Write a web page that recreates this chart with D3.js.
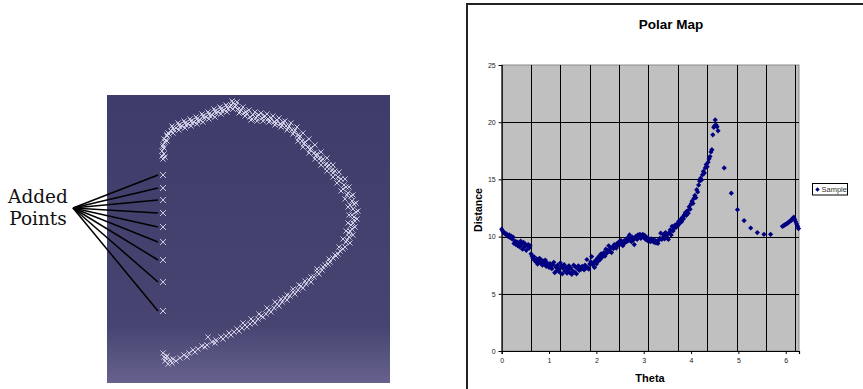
<!DOCTYPE html>
<html>
<head>
<meta charset="utf-8">
<script src="https://cdn.jsdelivr.net/npm/d3@7"></script>
<style>
  html, body { margin: 0; padding: 0; background: #fff; }
  svg { display: block; }
</style>
</head>
<body>
<svg id="chart" width="863" height="389"></svg>
<script>
// ---- left picture: scanned outline (scan pixel units, 283 x 288) ----
const scanU = [
  56,55,57,55,57,56,58,57,60,61,64,66,69,72,75,78,81,84,87,90,93,96,99,102,105,108,111,114,117,120,123,126,128,131,134,137,140,143,146,149,152,155,158,161,164,167,170,173,176,179,182,185,188,191,193,195,198,201,204,207,210,213,216,219,222,225,228,231,234,237,239,241,244,245,247,246,249,247,247,244,245,242,242,239,238,233,231,226,223,218,215,210,207,202,199,194,191,186,183,178,175,170,167,162,159,154,151,146,143,138,135,130,127,122,119,114,109,101,105,100,95,91,86,82,77,73,69,65,61,58,57,56,59,63,
  58,56,59,62,67,73,79,85,91,97,103,109,115,121,124,129,133,139,145,150,157,163,169,175,181,187,192,197,203,209,214,220,226,232,236,240,243,245,246,243,240,236,229,221,212,204,196,188,180,172,164,156,148,140,132,124,116,108,98,88,80,66,60,
  60,65,71,77,83,89,95,101,107,113,119,125,130,136,142,148,154,160,166,172,178,184,190,196,202,208,214,220,226,232,238,242,246,249,251,250,248,246,243,
  60,66,72,78,84,90,96,102,108,114,120,126,132,138,144,150,156,162,168,174,180,186,191,196,202,208,214,220,226,230,234,238,241,242,241,239,236,232,
  228,222,216,210,204,198,192,186,180,174,168,160,152,144,136
];
const scanV = [
  64,61,59,56,53,50,47,44,41,38,36,33,33,30,31,28,29,26,27,24,25,21,22,19,20,16,17,14,15,12,12,8,12,14,15,18,19,22,20,23,20,23,21,24,23,27,25,29,27,31,31,35,35,40,41,46,47,52,53,58,59,63,64,69,70,75,76,82,84,90,92,98,101,106,109,114,117,122,125,130,134,138,142,147,152,156,159,163,167,170,175,177,182,185,189,191,195,197,201,203,207,209,213,215,219,221,224,226,229,230,233,234,237,238,241,242,245,242,247,250,251,254,255,258,260,263,266,268,269,266,262,258,263,265,
  62,52,45,39,35,32,30,28,26,23,21,18,16,14,10,10,17,17,24,21,22,26,28,30,33,37,43,49,55,61,66,72,78,86,94,100,110,120,128,136,145,154,161,169,179,187,193,199,205,211,217,222,228,232,236,240,244,248,252,257,262,264,261,
  40,31,28,26,24,22,19,17,14,12,10,6,7,12,15,17,18,19,21,23,26,28,32,38,44,50,57,63,70,77,84,92,100,108,116,124,132,140,148,
  46,38,35,33,31,29,27,24,22,19,17,14,18,21,25,26,26,27,30,32,35,39,46,52,58,64,70,76,82,88,96,104,112,120,128,136,144,152,
  160,164,172,174,182,186,190,194,200,204,207,213,219,224,228
];
const addedU = [56, 56, 56, 56, 56, 56, 56, 56, 56];
const addedV = [80, 93, 105, 118, 132, 147, 165, 187, 216];
const labelLines = ['Added', 'Points'];

// ---- right chart: Sample series ----
const theta = [
  0.00,0.02,0.04,0.06,0.08,0.10,0.12,0.14,0.16,0.18,0.20,0.22,0.24,0.26,0.28,0.30,0.32,0.34,0.36,0.38,
  0.40,0.42,0.44,0.46,0.48,0.50,0.52,0.54,0.56,0.58,0.60,0.62,0.64,0.66,0.68,0.70,0.72,0.74,0.76,0.78,
  0.80,0.82,0.84,0.86,0.88,0.90,0.92,0.94,0.96,0.98,1.00,1.02,1.04,1.06,1.08,1.10,1.12,1.14,1.16,1.18,
  1.20,1.22,1.24,1.26,1.28,1.30,1.32,1.34,1.36,1.38,1.40,1.42,1.44,1.46,1.48,1.50,1.52,1.54,1.56,1.58,
  1.60,1.62,1.64,1.66,1.68,1.70,1.72,1.74,1.76,1.78,1.80,1.82,1.84,1.86,1.88,1.90,1.92,1.94,1.96,1.98,
  2.00,2.02,2.04,2.06,2.08,2.10,2.12,2.14,2.16,2.18,2.20,2.22,2.24,2.26,2.28,2.30,2.32,2.34,2.36,2.38,
  2.40,2.42,2.44,2.46,2.48,2.50,2.52,2.54,2.56,2.58,2.60,2.62,2.64,2.66,2.68,2.70,2.72,2.74,2.76,2.78,
  2.80,2.82,2.84,2.86,2.88,2.90,2.92,2.94,2.96,2.98,3.00,3.02,3.04,3.06,3.08,3.10,3.12,3.14,3.16,3.18,
  3.20,3.22,3.24,3.26,3.28,3.30,3.32,3.34,3.36,3.38,3.40,3.42,3.44,3.46,3.48,3.50,3.52,3.54,3.56,3.58,
  3.60,3.62,3.64,3.66,3.68,3.70,3.72,3.74,3.76,3.78,3.80,3.82,3.84,3.86,3.88,3.90,3.92,3.94,3.96,3.98,
  4.00,4.02,4.04,4.06,4.08,4.10,4.12,4.14,4.16,4.18,4.20,4.22,4.24,4.26,4.28,4.30,4.32,4.34,4.36,4.38,
  4.40,4.42,4.44,4.46,4.48,4.50,4.51,4.53,4.55,4.57,
  4.70,4.85,4.98,5.12,5.26,5.40,5.54,5.68,
  5.93,5.95,5.97,5.99,6.01,6.03,6.05,6.07,6.09,6.11,6.13,6.15,6.17,6.19,6.21,6.23,6.25,6.27
];
const distance = [
  10.65,10.5,10.4,10.3,10.2,10.25,10.1,10.0,10.15,9.9,10.05,9.8,9.95,9.4,9.6,9.3,9.55,9.2,9.45,9.1,
  9.6,9.3,8.9,9.5,9.1,9.35,8.8,9.2,9.3,9.0,9.2,8.5,8.3,8.1,8.25,7.9,7.8,8.05,7.6,7.9,
  8.1,7.7,7.95,7.5,7.85,7.6,7.95,7.4,7.7,7.5,7.3,7.65,7.45,7.2,7.55,7.75,6.85,7.35,7.0,7.5,
  7.2,6.9,7.7,7.4,6.75,7.2,7.55,6.95,7.3,6.8,7.1,7.45,6.85,7.25,6.7,7.0,7.5,6.9,7.35,6.75,
  7.2,7.45,7.05,7.3,7.15,7.4,7.2,7.1,7.5,7.25,8.0,7.3,7.15,7.6,7.8,8.25,7.55,7.75,7.3,7.9,
  7.6,8.1,7.85,8.3,8.0,8.5,8.2,8.45,8.6,8.3,8.9,8.55,8.8,9.2,8.7,9.0,8.6,9.1,8.95,9.3,
  9.15,9.0,9.4,9.25,9.55,9.35,9.65,9.5,9.2,9.6,9.45,9.75,9.55,9.9,9.65,10.15,9.8,9.55,9.95,9.7,
  9.3,9.9,10.05,9.75,10.15,9.95,10.2,9.85,10.05,10.2,9.9,10.1,9.75,9.95,9.65,9.85,9.7,9.55,9.8,9.6,
  9.75,9.5,9.65,9.45,9.6,9.4,9.7,9.85,10.3,9.75,9.9,10.15,9.8,10.35,10.0,10.2,9.75,10.35,10.6,10.15,
  10.9,10.5,10.75,11.0,10.8,11.1,10.95,11.35,11.15,11.5,11.3,11.7,11.55,11.9,12.1,11.85,12.25,12.05,12.6,12.4,
  12.85,13.1,12.9,13.35,13.6,13.4,14.1,13.9,14.5,14.85,15.1,14.95,15.4,15.7,15.55,16.0,16.3,16.1,16.5,16.8,
  17.0,17.4,17.6,18.9,19.55,19.7,20.2,19.75,19.6,19.25,
  16.0,13.8,12.35,11.4,10.75,10.35,10.2,10.2,
  10.9,10.95,11.0,11.05,11.1,11.15,11.2,11.3,11.35,11.4,11.5,11.6,11.7,11.5,11.3,11.1,10.9,10.7
];
const xTicks = [0, 1, 2, 3, 4, 5, 6];
const yTicks = [0, 5, 10, 15, 20, 25];
const gridTheta = [0.62, 1.24, 1.86, 2.48, 3.10, 3.72, 4.34, 4.96, 5.58, 6.20];
const thetaMax = 6.28;
const distMax = 25;
const seriesName = 'Sample';

const svg = d3.select('#chart');

// ---------------- left picture ----------------
const panel = { x: 107, y: 95, w: 283, h: 288 };
const defs = svg.append('defs');
const grad = defs.append('linearGradient')
    .attr('id', 'panelGrad').attr('x1', 0).attr('y1', 0).attr('x2', 0).attr('y2', 1);
grad.append('stop').attr('offset', '0%').attr('stop-color', '#3e3c6a');
grad.append('stop').attr('offset', '80%').attr('stop-color', '#474471');
grad.append('stop').attr('offset', '100%').attr('stop-color', '#66628d');

svg.append('rect')
    .attr('x', panel.x).attr('y', panel.y)
    .attr('width', panel.w).attr('height', panel.h)
    .attr('fill', 'url(#panelGrad)');

const su = d3.scaleLinear().domain([0, 283]).range([panel.x, panel.x + panel.w]);
const sv = d3.scaleLinear().domain([0, 288]).range([panel.y, panel.y + panel.h]);

const cross = (r) => `M${-r},${-r}L${r},${r}M${-r},${r}L${r},${-r}`;

svg.append('g')
    .selectAll('path')
    .data(d3.range(scanU.length))
    .join('path')
    .attr('transform', (i) => `translate(${su(scanU[i])},${sv(scanV[i])})`)
    .attr('d', cross(2.6))
    .attr('stroke', '#dcdbee')
    .attr('stroke-opacity', 0.85)
    .attr('stroke-width', 1)
    .attr('fill', 'none');

const labelAnchor = [73, 208];

svg.append('g')
    .selectAll('line')
    .data(d3.range(addedU.length))
    .join('line')
    .attr('x1', labelAnchor[0]).attr('y1', labelAnchor[1])
    .attr('x2', (i) => su(addedU[i]) - 5)
    .attr('y2', (i) => sv(addedV[i]))
    .attr('stroke', '#000')
    .attr('stroke-width', 1.5);

svg.append('g')
    .selectAll('path')
    .data(d3.range(addedU.length))
    .join('path')
    .attr('transform', (i) => `translate(${su(addedU[i])},${sv(addedV[i])})`)
    .attr('d', cross(3))
    .attr('stroke', '#c9c8df')
    .attr('stroke-width', 1)
    .attr('fill', 'none');

svg.append('text')
    .attr('x', 38).attr('y', 203)
    .attr('text-anchor', 'middle')
    .style('font-family', '"DejaVu Serif", serif')
    .style('font-size', '18.5px')
    .attr('fill', '#111')
    .selectAll('tspan')
    .data(labelLines)
    .join('tspan')
    .attr('x', 38)
    .attr('dy', (d, i) => i === 0 ? 0 : 22)
    .text((d) => d);

// ---------------- right chart ----------------
svg.append('rect')
    .attr('x', 467).attr('y', 4)
    .attr('width', 420).attr('height', 400)
    .attr('fill', '#fff')
    .attr('stroke', '#222')
    .attr('stroke-width', 2);

const plot = { left: 501.7, right: 799, top: 65, bottom: 351 };
const x = d3.scaleLinear().domain([0, thetaMax]).range([plot.left, plot.right]);
const y = d3.scaleLinear().domain([0, distMax]).range([plot.bottom, plot.top]);

svg.append('rect')
    .attr('x', plot.left).attr('y', plot.top)
    .attr('width', plot.right - plot.left).attr('height', plot.bottom - plot.top)
    .attr('fill', '#c0c0c0')
    .attr('stroke', '#8a8a8a')
    .attr('stroke-width', 1);

// gridlines
svg.append('g')
    .selectAll('line')
    .data(yTicks.filter((d) => d > 0 && d < distMax))
    .join('line')
    .attr('x1', plot.left).attr('x2', plot.right)
    .attr('y1', (d) => Math.round(y(d)) + 0.5).attr('y2', (d) => Math.round(y(d)) + 0.5)
    .attr('stroke', '#000').attr('stroke-width', 1);

svg.append('g')
    .selectAll('line')
    .data(gridTheta)
    .join('line')
    .attr('x1', (d) => Math.round(x(d)) + 0.5).attr('x2', (d) => Math.round(x(d)) + 0.5)
    .attr('y1', plot.top).attr('y2', plot.bottom)
    .attr('stroke', '#000').attr('stroke-width', 1);

// axes
const xAxis = d3.axisBottom(x).tickValues(xTicks).tickSize(3).tickPadding(4).tickFormat(d3.format('d'));
const yAxis = d3.axisLeft(y).tickValues(yTicks).tickSize(3).tickPadding(3).tickFormat(d3.format('d'));

const gx = svg.append('g')
    .attr('transform', `translate(0,${plot.bottom})`)
    .call(xAxis);
const gy = svg.append('g')
    .attr('transform', `translate(${plot.left},0)`)
    .call(yAxis);

[gx, gy].forEach((g) => {
    g.select('.domain').attr('stroke', '#000').attr('stroke-width', 1.2);
    g.selectAll('.tick line').attr('stroke', '#000');
    g.selectAll('.tick text')
        .style('font-family', 'Arial, "Liberation Sans", sans-serif')
        .style('font-size', '7px')
        .attr('fill', '#222');
});

// points
const diamond = 'M0,-2.6L2.6,0L0,2.6L-2.6,0Z';
svg.append('g')
    .selectAll('path')
    .data(d3.range(theta.length))
    .join('path')
    .attr('transform', (i) => `translate(${x(theta[i])},${y(distance[i])})`)
    .attr('d', diamond)
    .attr('fill', '#000080');

// titles
const bold = (sel, size) => sel
    .style('font-family', 'Arial, "Liberation Sans", sans-serif')
    .style('font-weight', 'bold')
    .style('font-size', size)
    .attr('fill', '#000');

svg.append('text')
    .attr('x', 671).attr('y', 29)
    .attr('text-anchor', 'middle')
    .call(bold, '13.5px')
    .text('Polar Map');

svg.append('text')
    .attr('transform', 'translate(482,210) rotate(-90)')
    .attr('text-anchor', 'middle')
    .call(bold, '10.5px')
    .text('Distance');

svg.append('text')
    .attr('x', 650).attr('y', 382)
    .attr('text-anchor', 'middle')
    .call(bold, '11px')
    .text('Theta');

// legend
const legend = svg.append('g').attr('transform', 'translate(812.5,183.5)');
legend.append('rect')
    .attr('width', 35).attr('height', 11.5)
    .attr('fill', '#fff')
    .attr('stroke', '#000')
    .attr('stroke-width', 1);
legend.append('path')
    .attr('transform', 'translate(5,6)')
    .attr('d', 'M0,-2.2L2.2,0L0,2.2L-2.2,0Z')
    .attr('fill', '#000080');
legend.append('text')
    .attr('x', 9).attr('y', 8.7)
    .style('font-family', 'Arial, "Liberation Sans", sans-serif')
    .style('font-size', '7.5px')
    .attr('fill', '#333')
    .text(seriesName);
</script>
</body>
</html>
